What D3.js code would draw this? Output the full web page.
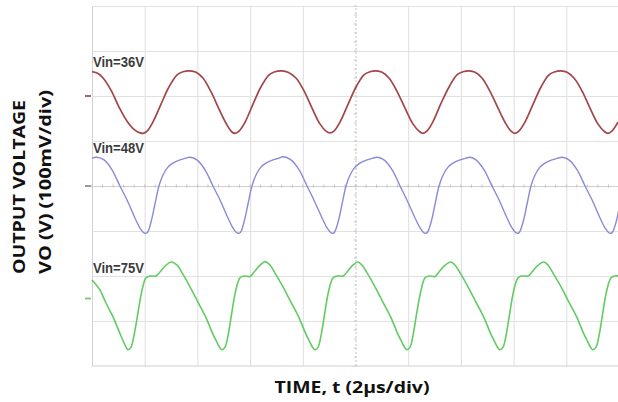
<!DOCTYPE html>
<html>
<head>
<meta charset="utf-8">
<script src="https://cdn.jsdelivr.net/npm/d3@7"></script>
<style>
  html, body { margin: 0; padding: 0; background: #ffffff; }
  svg { display: block; }
</style>
</head>
<body>
<svg id="chart" width="618" height="402"></svg>
<script>
// Scope graticule: 2 µs/div horizontally, 100 mV/div vertically
const xTicks = [0, 2, 4, 6, 8, 10, 12, 14, 16, 18, 20];          // µs
const yTicks = [100, 200, 300, 400, 500, 600, 700, 800];          // mV
const xTitle = "TIME, t (2µs/div)";
const yTitle = ["OUTPUT VOLTAGE", "VO (V) (100mV/div)"];
const traceNames = ["Vin=36V", "Vin=48V", "Vin=75V"];
const channelLevels = [600, 400, 150];                            // mV, channel ground markers

// Vin = 36 V ripple
const time36 = [0, 0.23, 0.42, 0.72, 1.02, 1.33, 1.63, 1.82, 1.94, 2.09, 2.31, 2.62, 2.92, 3.23, 3.45, 3.72, 3.95,
  4.21, 4.52, 4.82, 5.12, 5.31, 5.43, 5.58, 5.81, 6.11, 6.41, 6.72, 6.94, 7.21, 7.44,
  7.74, 8.05, 8.35, 8.65, 8.88, 9.03, 9.18, 9.41, 9.72, 10.02, 10.32, 10.55, 10.78, 11.01,
  11.27, 11.57, 11.88, 12.18, 12.41, 12.56, 12.71, 12.94, 13.24, 13.55, 13.85, 14.08, 14.31, 14.54,
  14.80, 15.10, 15.41, 15.71, 15.90, 16.05, 16.20, 16.43, 16.74, 17.04, 17.34, 17.57, 17.80, 18.03,
  18.29, 18.60, 18.90, 19.20, 19.43, 19.58, 19.73, 19.96];
const vout36 = [654, 650, 640, 613, 576, 544, 524, 518, 517, 522, 542, 582, 620, 647, 654, 656, 653,
  640, 609, 571, 536, 520, 517, 522, 542, 582, 620, 647, 654, 656, 653,
  640, 611, 573, 538, 522, 518, 522, 542, 582, 620, 647, 654, 656, 653,
  640, 611, 573, 538, 522, 517, 522, 543, 583, 620, 647, 654, 656, 653,
  640, 611, 573, 538, 522, 517, 522, 542, 582, 620, 647, 654, 656, 653,
  640, 611, 573, 538, 522, 517, 522, 542];

// Vin = 48 V ripple
const time48 = [0.00, 0.19,
  0.46, 0.76, 1.06, 1.33, 1.63, 1.82, 1.97, 2.09, 2.24, 2.39, 2.54, 2.69, 2.88, 3.07, 3.34, 3.57, 3.72,
  3.98, 4.29, 4.59, 4.86, 5.16, 5.35, 5.50, 5.62, 5.77, 5.92, 6.07, 6.22, 6.41, 6.60, 6.87, 7.10, 7.25,
  7.55, 7.86, 8.16, 8.42, 8.73, 8.92, 9.07, 9.18, 9.34, 9.49, 9.64, 9.79, 9.98, 10.17, 10.44, 10.66, 10.82,
  11.08, 11.39, 11.69, 11.95, 12.26, 12.45, 12.60, 12.71, 12.87, 13.02, 13.17, 13.32, 13.51, 13.70, 13.97, 14.19, 14.35,
  14.57, 14.88, 15.18, 15.45, 15.75, 15.94, 16.09, 16.20, 16.36, 16.51, 16.66, 16.81, 17.00, 17.19, 17.46, 17.68, 17.84,
  18.10, 18.41, 18.71, 18.98, 19.28, 19.47, 19.62, 19.73, 19.89, 20.00];
const vout48 = [462, 464,
  458, 436, 400, 369, 329, 307, 296, 296, 320, 360, 400, 424, 442, 451, 458, 462, 464,
  458, 436, 400, 369, 329, 307, 296, 296, 320, 360, 400, 424, 442, 451, 458, 462, 465,
  458, 436, 400, 369, 329, 307, 296, 296, 320, 360, 400, 424, 442, 451, 458, 462, 464,
  458, 436, 400, 369, 329, 307, 296, 296, 320, 360, 400, 424, 442, 451, 458, 462, 464,
  458, 436, 400, 369, 329, 307, 296, 296, 320, 360, 400, 424, 442, 451, 458, 462, 464,
  458, 436, 400, 369, 329, 307, 296, 296, 320, 350];

// Vin = 75 V ripple
const time75 = [0.00, 0.30, 0.53, 0.80, 1.02, 1.18, 1.29, 1.37,
  1.48, 1.59, 1.75, 1.90, 2.05, 2.20, 2.43, 2.58, 2.81, 3.00,
  3.23, 3.42, 3.72, 4.02, 4.33, 4.55, 4.74, 4.86, 4.93,
  5.05, 5.16, 5.31, 5.46, 5.62, 5.77, 6.00, 6.15, 6.38, 6.57,
  6.76, 6.94, 7.25, 7.55, 7.86, 8.08, 8.27, 8.39, 8.46,
  8.58, 8.69, 8.84, 8.99, 9.15, 9.30, 9.53, 9.68, 9.90, 10.09,
  10.25, 10.44, 10.74, 11.04, 11.35, 11.57, 11.76, 11.88, 11.95,
  12.07, 12.18, 12.33, 12.49, 12.64, 12.79, 13.02, 13.17, 13.40, 13.62,
  13.78, 13.97, 14.27, 14.57, 14.88, 15.10, 15.29, 15.41, 15.48,
  15.60, 15.71, 15.86, 16.01, 16.17, 16.32, 16.55, 16.70, 16.93, 17.15,
  17.31, 17.49, 17.80, 18.10, 18.41, 18.63, 18.82, 18.94, 19.01,
  19.13, 19.24, 19.39, 19.54, 19.70, 19.85, 20.00];
const vout75 = [191, 169, 140, 109, 78, 56, 42, 36,
  42, 67, 120, 169, 196, 200, 200, 209, 224, 231,
  224, 207, 176, 142, 107, 76, 53, 40, 36,
  42, 67, 120, 169, 196, 200, 199, 209, 224, 232,
  224, 207, 176, 142, 107, 76, 53, 40, 36,
  42, 67, 120, 169, 196, 200, 200, 209, 224, 231,
  224, 207, 176, 142, 107, 76, 53, 40, 36,
  42, 67, 120, 169, 196, 200, 199, 209, 224, 231,
  224, 207, 176, 142, 107, 76, 53, 40, 36,
  42, 67, 120, 169, 196, 200, 200, 209, 224, 231,
  224, 207, 176, 142, 107, 76, 53, 40, 36,
  42, 67, 120, 169, 196, 200, 200];

const traces = [
  { name: traceNames[0], t: time36, v: vout36, color: "#a3464a", width: 1.7, labelAt: 664 },
  { name: traceNames[1], t: time48, v: vout48, color: "#8a8ad8", width: 1.4, labelAt: 473 },
  { name: traceNames[2], t: time75, v: vout75, color: "#62cc62", width: 1.6, labelAt: 207 }
];
const markerColors = ["#a06a6a", "#9a9a9a", "#86c886"];

const svg = d3.select("#chart");
const plot = { left: 92, right: 619, top: 6, bottom: 366 };

const x = d3.scaleLinear().domain([0, 20]).range([plot.left, plot.right]);
const y = d3.scaleLinear().domain([0, 800]).range([plot.bottom, plot.top]);

// graticule
const gridX = svg.append("g")
  .attr("transform", `translate(0,${plot.bottom})`)
  .call(d3.axisBottom(x).tickValues(xTicks).tickSize(-(plot.bottom - plot.top)).tickFormat(""));
gridX.select(".domain").remove();
gridX.selectAll(".tick line")
  .attr("stroke", d => d === 10 ? "#c4c4c4" : (d === 0 ? "#d2d2d2" : "#dedede"))
  .attr("stroke-dasharray", d => d === 10 ? "2,2" : null)
  .attr("stroke-width", 1);

const gridY = svg.append("g")
  .attr("transform", `translate(${plot.left},0)`)
  .call(d3.axisLeft(y).tickValues(yTicks).tickSize(-(plot.right - plot.left)).tickFormat(""));
gridY.select(".domain").remove();
gridY.selectAll(".tick line")
  .attr("stroke", d => d === 400 ? "#cfcfcf" : (d === 0 ? "#d2d2d2" : "#e2e2e2"))
  .attr("stroke-width", 1);

// bottom frame line
svg.append("line")
  .attr("x1", plot.left).attr("x2", plot.right)
  .attr("y1", y(0)).attr("y2", y(0))
  .attr("stroke", "#d0d0d0");

// minor ticks on the centre axes (5 per division)
const minorX = d3.range(0, 20.001, 0.4);
svg.append("g").selectAll("line").data(minorX).join("line")
  .attr("x1", d => x(d)).attr("x2", d => x(d))
  .attr("y1", y(400) - 1.5).attr("y2", y(400) + 1.5)
  .attr("stroke", "#c2c2c2").attr("stroke-width", 1);
const minorY = d3.range(0, 800.001, 20);
svg.append("g").selectAll("line").data(minorY).join("line")
  .attr("x1", x(10) - 1.5).attr("x2", x(10) + 1.5)
  .attr("y1", d => y(d)).attr("y2", d => y(d))
  .attr("stroke", "#c8c8c8").attr("stroke-width", 1);

// channel markers at the left edge
svg.append("g").selectAll("line").data(channelLevels).join("line")
  .attr("x1", plot.left - 7).attr("x2", plot.left - 1)
  .attr("y1", d => y(d)).attr("y2", d => y(d))
  .attr("stroke", (d, i) => markerColors[i]).attr("stroke-width", 2);

// waveforms
const line = d3.line().curve(d3.curveCatmullRom.alpha(0.5));
traces.forEach(tr => {
  const pts = tr.t.map((t, i) => [x(t), y(tr.v[i])]);
  svg.append("path")
    .attr("d", line(pts))
    .attr("fill", "none")
    .attr("stroke", tr.color)
    .attr("stroke-width", tr.width)
    .attr("stroke-linejoin", "round");
});

// trace labels
svg.append("g").selectAll("text").data(traces).join("text")
  .attr("x", x(0) + 1)
  .attr("y", d => y(d.labelAt))
  .attr("font-family", "'Liberation Sans Narrow', 'Arial Narrow', sans-serif")
  .attr("font-weight", 700)
  .attr("font-size", 14.5)
  .attr("fill", "#3c3c3c")
  .attr("textLength", 51)
  .attr("lengthAdjust", "spacingAndGlyphs")
  .text(d => d.name);

// axis titles
svg.append("text")
  .attr("x", 352).attr("y", 393)
  .attr("text-anchor", "middle")
  .attr("font-family", "'Open Sans', sans-serif")
  .attr("font-weight", 700)
  .attr("font-size", 16)
  .attr("fill", "#111")
  .attr("textLength", 155)
  .attr("lengthAdjust", "spacingAndGlyphs")
  .text(xTitle);

const yt = svg.append("g").attr("transform", "translate(0,186) rotate(-90)");
yt.selectAll("text").data(yTitle).join("text")
  .attr("x", (d, i) => i === 0 ? -1 : 4)
  .attr("y", (d, i) => i === 0 ? 25 : 51)
  .attr("text-anchor", "middle")
  .attr("font-family", "'Open Sans', sans-serif")
  .attr("font-weight", 700)
  .attr("font-size", 16)
  .attr("fill", "#111")
  .attr("textLength", (d, i) => i === 0 ? 174 : 184)
  .attr("lengthAdjust", "spacingAndGlyphs")
  .text(d => d);
</script>
</body>
</html>
